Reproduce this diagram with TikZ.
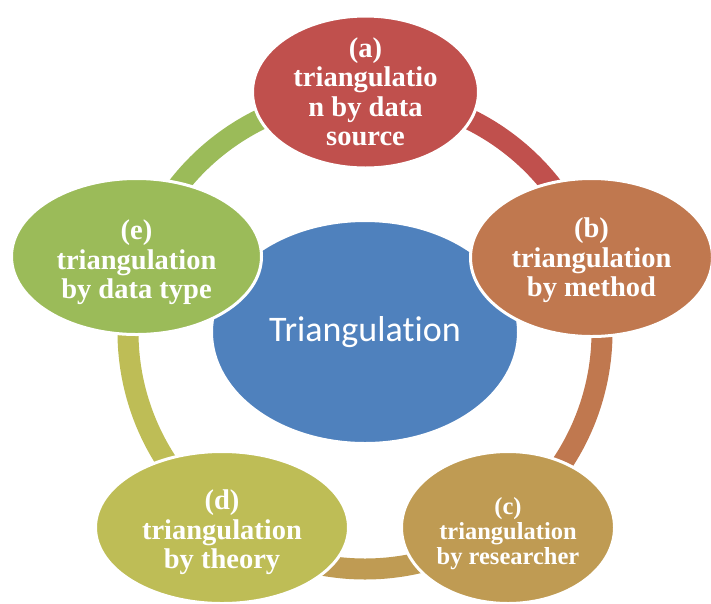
\documentclass[tikz,border=0pt]{standalone}
\usepackage{fontspec}
\setmainfont{Liberation Serif}
\newfontfamily\calibrifont[Ligatures=NoCommon]{Carlito}
\usepackage{tikz}
\usetikzlibrary{shapes.geometric}
\pgfdeclarelayer{nodelayer}
\pgfdeclarelayer{edgelayer}
\pgfsetlayers{edgelayer,nodelayer,main}
\definecolor{cblue}{HTML}{4F81BD}
\definecolor{cred}{HTML}{C0504D}
\definecolor{corange}{HTML}{C0784F}
\definecolor{ctan}{HTML}{BF9B53}
\definecolor{colive}{HTML}{BEBD56}
\definecolor{cgreen}{HTML}{9BBB59}
\tikzstyle{none}=[inner sep=0pt]
\tikzstyle{ringarc}=[line width=21pt]
\tikzset{petal/.style={shape=ellipse, draw=white, line width=3pt, inner sep=0pt}}
\tikzset{petaltext/.style={inner sep=0pt, text=white, align=center,
font=\fontsize{28.5}{29.5}\selectfont\bfseries}}

\begin{document}
\begin{tikzpicture}[x=1pt,y=-1pt]
	\useasboundingbox (0,0) rectangle (711,603);
	\begin{pgfonlayer}{nodelayer}
		\node [style=petal, fill=cblue, minimum width=307pt, minimum height=223pt,
			text=white, font=\calibrifont\fontsize{36}{40}\selectfont] (0) at (365, 332) {Triangulation};
		\node [style=petal, fill=cred, minimum width=226pt, minimum height=152pt] (1) at (365.5, 92) {};
		\node [style=petal, fill=corange, minimum width=242pt, minimum height=158pt] (2) at (591.5, 257.5) {};
		\node [style=petal, fill=ctan, minimum width=213pt, minimum height=152pt] (3) at (508, 527.5) {};
		\node [style=petal, fill=colive, minimum width=253pt, minimum height=152pt] (4) at (222, 527.5) {};
		\node [style=petal, fill=cgreen, minimum width=250pt, minimum height=156pt] (5) at (136.5, 256.5) {};
		\node [style=petaltext] (6) at (1) {(a)\\triangulatio\\n by data\\source};
		\node [style=petaltext] (7) at ([yshift=-3pt]2) {(b)\\triangulation\\by method};
		\node [style=petaltext, font=\fontsize{24.5}{25}\selectfont\bfseries] (8) at ([yshift=-6pt]3) {(c)\\triangulation\\by researcher};
		\node [style=petaltext] (9) at ([yshift=-5pt]4) {(d)\\triangulation\\by theory};
		\node [style=petaltext] (10) at ([yshift=-6pt]5) {(e)\\triangulation\\by data type};
	\end{pgfonlayer}
	\begin{pgfonlayer}{edgelayer}
		\coordinate (11) at (365, 332);
		\foreach \col/\s in {cred/-90, corange/-18, ctan/54, colive/126, cgreen/198}
			\draw [style=ringarc, \col] (11) ++(\s:237) arc [start angle=\s, delta angle=72, radius=237];
	\end{pgfonlayer}
\end{tikzpicture}
\end{document}
